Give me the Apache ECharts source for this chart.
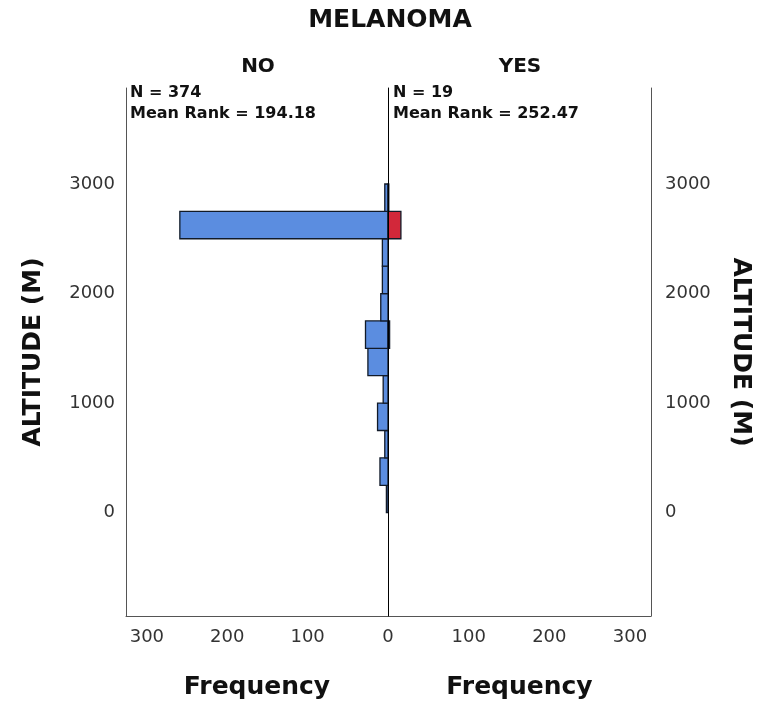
<!DOCTYPE html>
<html>
<head>
<meta charset="utf-8">
<script src="https://cdn.jsdelivr.net/npm/echarts@6/dist/echarts.min.js"></script>
<style>html,body{margin:0;padding:0;background:#fff}#c{width:761px;height:704px}</style>
</head>
<body>
<div id="c"></div>
<script>
// Altitude bins (m): lower and upper edges
var binLow  = [0, 250, 500, 750, 1000, 1250, 1500, 1750, 2000, 2250, 2500, 2750];
var binHigh = [250, 500, 750, 1000, 1250, 1500, 1750, 2000, 2250, 2500, 2750, 3000];
// Frequencies per bin
var noCounts  = [2, 10, 4, 13, 6, 25, 28, 9, 7, 7, 259, 4];
var yesCounts = [0, 0, 0, 0, 0, 0, 2, 0, 0, 0, 16, 1];
var groupNames = ['NO', 'YES'];
var groupStats = [['N = 374', 'Mean Rank = 194.18'], ['N = 19', 'Mean Rank = 252.47']];
var yTicks = [0, 1000, 2000, 3000];
var xTicksLeft = [100, 200, 300];
var xTicksRight = [0, 100, 200, 300];

var FONT = 'DejaVu Sans';

function toData(counts) {
  var out = [];
  for (var i = 0; i < counts.length; i++) {
    if (counts[i] > 0) out.push([counts[i], binLow[i], binHigh[i]]);
  }
  return out;
}

function renderBar(params, api) {
  var c = api.value(0), lo = api.value(1), hi = api.value(2);
  var a = api.coord([0, hi]);
  var b = api.coord([c, lo]);
  return {
    type: 'rect',
    shape: {
      x: Math.min(a[0], b[0]),
      y: Math.min(a[1], b[1]),
      width: Math.abs(b[0] - a[0]),
      height: Math.abs(b[1] - a[1])
    },
    style: api.style()
  };
}

function plain(v) { return String(v); }

var labelStyle = {fontSize: 18, color: '#333', fontFamily: FONT, formatter: plain};
var nameStyle = {fontSize: 25, fontWeight: 'bold', color: '#111', fontFamily: FONT};
var frameLine = {show: true, onZero: false, lineStyle: {color: '#555', width: 1}};

var chart = echarts.init(document.getElementById('c'), null, {renderer: 'canvas'});
chart.setOption({
  animation: false,
  backgroundColor: '#fff',
  grid: [
    {left: 126, right: 373, top: 88, bottom: 88, outerBoundsMode: 'none', containLabel: false},
    {left: 388, right: 110, top: 88, bottom: 88, outerBoundsMode: 'none', containLabel: false}
  ],
  xAxis: [
    {gridIndex: 0, type: 'value', inverse: true, min: 0, max: 326,
     axisLine: frameLine, axisTick: {show: false}, splitLine: {show: false},
     axisLabel: Object.assign({customValues: xTicksLeft, margin: 12}, labelStyle),
     name: 'Frequency', nameLocation: 'middle', nameGap: 59, nameTextStyle: nameStyle},
    {gridIndex: 1, type: 'value', min: 0, max: 326,
     axisLine: frameLine, axisTick: {show: false}, splitLine: {show: false},
     axisLabel: Object.assign({customValues: xTicksRight, margin: 12}, labelStyle),
     name: 'Frequency', nameLocation: 'middle', nameGap: 59, nameTextStyle: nameStyle}
  ],
  yAxis: [
    {gridIndex: 0, type: 'value', position: 'left', min: -943, max: 3876,
     axisLine: frameLine, axisTick: {show: false}, splitLine: {show: false},
     axisLabel: Object.assign({customValues: yTicks, margin: 11}, labelStyle),
     name: 'ALTITUDE (M)', nameLocation: 'middle', nameGap: 80, nameTextStyle: nameStyle},
    {gridIndex: 0, type: 'value', position: 'right', min: -943, max: 3876, z: 5,
     axisLine: {show: true, onZero: false, lineStyle: {color: '#000', width: 1}},
     axisTick: {show: false}, splitLine: {show: false}, axisLabel: {show: false}},
    {gridIndex: 1, type: 'value', position: 'right', min: -943, max: 3876,
     axisLine: frameLine, axisTick: {show: false}, splitLine: {show: false},
     axisLabel: Object.assign({customValues: yTicks, margin: 14}, labelStyle),
     name: 'ALTITUDE (M)', nameLocation: 'middle', nameGap: 77, nameRotate: -90, nameTextStyle: nameStyle}
  ],
  series: [
    {type: 'custom', name: groupNames[0], xAxisIndex: 0, yAxisIndex: 0,
     renderItem: renderBar, encode: {x: 0, y: [1, 2]}, data: toData(noCounts),
     itemStyle: {color: '#5B8DE0', borderColor: '#111a28', borderWidth: 1.3}},
    {type: 'custom', name: groupNames[1], xAxisIndex: 1, yAxisIndex: 2,
     renderItem: renderBar, encode: {x: 0, y: [1, 2]}, data: toData(yesCounts),
     itemStyle: {color: '#D2283A', borderColor: '#111a28', borderWidth: 1.3}}
  ],
  graphic: [
    {type: 'text', x: 390, y: 20,
     style: {text: 'MELANOMA', font: 'bold 25px "DejaVu Sans"', fill: '#111', textAlign: 'center', textVerticalAlign: 'middle'}},
    {type: 'text', x: 258, y: 67,
     style: {text: groupNames[0], font: 'bold 20px "DejaVu Sans"', fill: '#111', textAlign: 'center', textVerticalAlign: 'middle'}},
    {type: 'text', x: 520, y: 67,
     style: {text: groupNames[1], font: 'bold 20px "DejaVu Sans"', fill: '#111', textAlign: 'center', textVerticalAlign: 'middle'}},
    {type: 'text', x: 130, y: 93,
     style: {text: groupStats[0][0], font: 'bold 16px "DejaVu Sans"', fill: '#111', textVerticalAlign: 'middle'}},
    {type: 'text', x: 130, y: 114,
     style: {text: groupStats[0][1], font: 'bold 16px "DejaVu Sans"', fill: '#111', textVerticalAlign: 'middle'}},
    {type: 'text', x: 393, y: 93,
     style: {text: groupStats[1][0], font: 'bold 16px "DejaVu Sans"', fill: '#111', textVerticalAlign: 'middle'}},
    {type: 'text', x: 393, y: 114,
     style: {text: groupStats[1][1], font: 'bold 16px "DejaVu Sans"', fill: '#111', textVerticalAlign: 'middle'}}
  ]
});
</script>
</body>
</html>
